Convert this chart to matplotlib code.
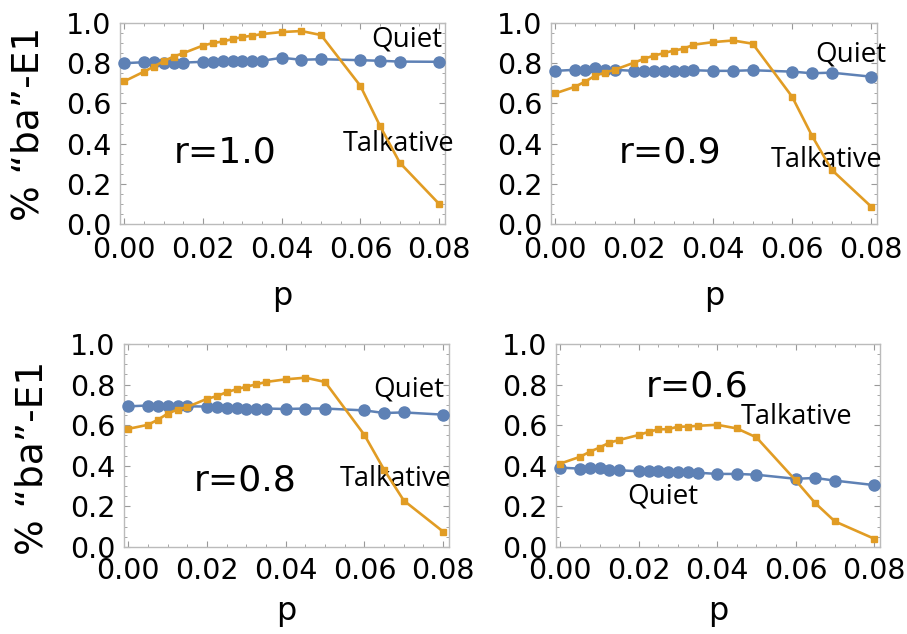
import numpy as np
import matplotlib.pyplot as plt

plt.rcParams['font.family'] = ['DejaVu Sans']

# p values (same grid in all four panels)
p = [0.0, 0.005, 0.0075, 0.01, 0.0125, 0.015, 0.02, 0.0225, 0.025, 0.0275,
     0.03, 0.0325, 0.035, 0.04, 0.045, 0.05, 0.06, 0.065, 0.07, 0.08]

# r = 1.0
quiet_10 = [0.80, 0.805, 0.808, 0.803, 0.802, 0.803, 0.807, 0.808, 0.81, 0.81,
            0.81, 0.81, 0.812, 0.827, 0.817, 0.82, 0.815, 0.812, 0.808, 0.807]
talk_10 = [0.71, 0.758, 0.783, 0.81, 0.833, 0.85, 0.888, 0.90, 0.908, 0.92,
           0.93, 0.937, 0.945, 0.955, 0.96, 0.94, 0.687, 0.487, 0.305, 0.10]
# r = 0.9
quiet_09 = [0.762, 0.767, 0.767, 0.775, 0.768, 0.767, 0.762, 0.762, 0.762, 0.762,
            0.762, 0.762, 0.765, 0.762, 0.762, 0.765, 0.758, 0.75, 0.753, 0.733]
talk_09 = [0.65, 0.683, 0.708, 0.737, 0.753, 0.767, 0.803, 0.822, 0.838, 0.85,
           0.863, 0.872, 0.892, 0.905, 0.913, 0.897, 0.633, 0.44, 0.27, 0.087]
# r = 0.8
quiet_08 = [0.693, 0.697, 0.695, 0.693, 0.693, 0.693, 0.692, 0.69, 0.685, 0.683,
            0.682, 0.682, 0.682, 0.68, 0.682, 0.682, 0.673, 0.66, 0.663, 0.652]
talk_08 = [0.582, 0.602, 0.627, 0.657, 0.677, 0.69, 0.73, 0.743, 0.763, 0.777,
           0.79, 0.801, 0.813, 0.826, 0.834, 0.813, 0.552, 0.381, 0.229, 0.076]
# r = 0.6
quiet_06 = [0.391, 0.386, 0.39, 0.388, 0.38, 0.378, 0.373, 0.373, 0.372, 0.37,
            0.368, 0.367, 0.366, 0.36, 0.36, 0.356, 0.336, 0.34, 0.327, 0.305]
talk_06 = [0.411, 0.444, 0.469, 0.49, 0.514, 0.527, 0.552, 0.567, 0.58, 0.58,
           0.593, 0.593, 0.597, 0.602, 0.584, 0.54, 0.328, 0.216, 0.126, 0.041]

panels = [
    ('r=1.0', quiet_10, talk_10, (0.0256, 0.358), (0.0717, 0.917), (0.0697, 0.397)),
    ('r=0.9', quiet_09, talk_09, (0.0291, 0.358), (0.0749, 0.842), (0.0688, 0.317)),
    ('r=0.8', quiet_08, talk_08, (0.0298, 0.328), (0.0712, 0.776), (0.0680, 0.337)),
    ('r=0.6', quiet_06, talk_06, (0.0349, 0.790), (0.0261, 0.249), (0.0603, 0.640)),
]

# axes rectangles in pixels: left, right, top, bottom
boxes = [(120, 445, 23, 224), (551, 877, 23, 224),
         (124, 449, 344, 547), (556, 880, 344, 547)]

W, H = 907, 634
fig = plt.figure(figsize=(W / 100, H / 100), dpi=100)

blue = '#5E81B5'
orange = '#E19C24'

for i, (label, quiet, talk, rpos, qpos, tpos) in enumerate(panels):
    l, r, t, b = boxes[i]
    ax = fig.add_axes([l / W, 1 - b / H, (r - l) / W, (b - t) / H])
    ax.plot(p, quiet, '-o', color=blue, lw=1.8, ms=8, clip_on=False, zorder=3)
    ax.plot(p, talk, '-s', color=orange, lw=1.9, ms=4.5, clip_on=False, zorder=4)
    ax.set_xlim(-0.0011, 0.0815)
    ax.set_ylim(0, 1.0)
    ax.set_xticks([0.0, 0.02, 0.04, 0.06, 0.08])
    ax.set_xticklabels(['0.00', '0.02', '0.04', '0.06', '0.08'])
    ax.set_yticks([0.0, 0.2, 0.4, 0.6, 0.8, 1.0])
    ax.set_yticklabels(['0.0', '0.2', '0.4', '0.6', '0.8', '1.0'])
    ax.set_xticks(np.arange(0, 0.081, 0.005), minor=True)
    ax.set_yticks(np.arange(0, 1.001, 0.05), minor=True)
    ax.tick_params(which='both', direction='in', top=True, right=True,
                   color='#999999', labelsize=20.5)
    ax.tick_params(axis='x', pad=9 if i < 2 else 7)
    ax.tick_params(axis='y', pad=6)
    ax.tick_params(which='major', length=4, width=0.8)
    ax.tick_params(which='minor', length=2, width=0.6)
    for s in ax.spines.values():
        s.set_color('#bbbbbb')
        s.set_linewidth(1.0)
    ax.set_xlabel('p', fontsize=23, labelpad=12 if i < 2 else 8)
    if i % 2 == 0:
        ax.set_ylabel('% \u201cba\u201d-E1', fontsize=27)
        ax.yaxis.set_label_coords(-0.225, 0.5 if i == 0 else 0.44)
    ax.text(*rpos, label, fontsize=26, ha='center', va='center')
    ax.text(*qpos, 'Quiet', fontsize=20, ha='center', va='center', family='Open Sans')
    ax.text(*tpos, 'Talkative', fontsize=19.5, ha='center', va='center', family='Open Sans')

fig.savefig('out.png', dpi=100)
